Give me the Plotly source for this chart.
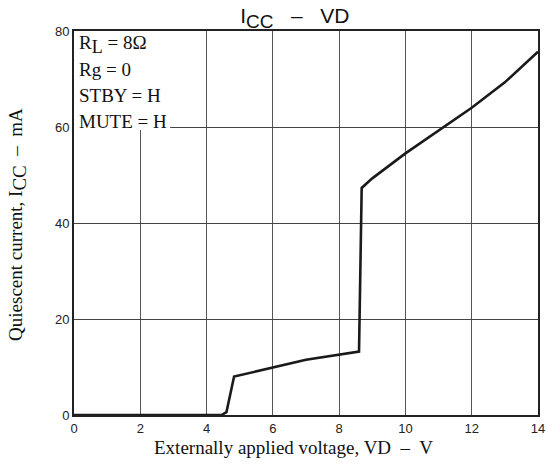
import plotly.graph_objects as go

vd = [0, 4.45, 4.6, 4.83, 7.0, 8.45, 8.6, 8.68, 9.0, 10, 11, 12, 13, 14]
icc = [0, 0, 0.6, 8.0, 11.5, 12.9, 13.2, 47.3, 49.3, 54.5, 59.2, 64.0, 69.3, 75.7]
x_ticks = [0, 2, 4, 6, 8, 10, 12, 14]
y_ticks = [0, 20, 40, 60, 80]
cond_lines = ["R<sub><span style='font-size:18px'>L</span></sub> = 8Ω", "Rg = 0", "STBY = H", "MUTE = H"]

serif = "Liberation Serif, Times New Roman, serif"
sans = "Liberation Sans, Arial, sans-serif"

fig = go.Figure()
fig.add_trace(go.Scatter(x=vd, y=icc, mode="lines",
                         line=dict(color="#1a1a1a", width=2.6), showlegend=False))

fig.update_layout(
    width=546, height=466,
    margin=dict(l=74, r=8, t=31, b=51),
    paper_bgcolor="white", plot_bgcolor="white",
    title=dict(text="I<sub><span style='font-size:19px'>CC</span></sub>   –   VD",
               x=0.54, xanchor="center", y=0.966, yanchor="middle",
               font=dict(family=sans, size=21, color="#111")),
    xaxis=dict(range=[0, 14], tickvals=x_ticks, showgrid=True, gridcolor="#555", gridwidth=1,
               showline=True, linecolor="#222", linewidth=2, mirror=True, zeroline=False,
               automargin=False,
               ticks="", tickfont=dict(family=sans, size=13, color="#222")),
    yaxis=dict(range=[0, 80], tickvals=y_ticks, showgrid=True, gridcolor="#444", gridwidth=1,
               showline=True, linecolor="#222", linewidth=2, mirror=True, zeroline=False,
               automargin=False,
               ticks="", tickfont=dict(family=sans, size=13, color="#222")),
)

fig.add_shape(type="rect", xref="x", yref="y", x0=0, x1=2.9, y0=59.4, y1=80,
              fillcolor="white", line=dict(width=0), layer="between")

ys = [77.1, 71.9, 66.5, 61.25]
for t, yv in zip(cond_lines, ys):
    fig.add_annotation(x=0.1, y=yv, xref="x", yref="y", text=t, showarrow=False,
                       xanchor="left", yanchor="middle",
                       font=dict(family=serif, size=19, color="#111"))

fig.add_annotation(x=0.474, y=0, xref="paper", yref="paper", yshift=-32,
                   text="Externally applied voltage, VD  –  V", showarrow=False,
                   xanchor="center", yanchor="middle",
                   font=dict(family=serif, size=19, color="#111"))
fig.add_annotation(x=0, y=0.495, xref="paper", yref="paper", xshift=-56,
                   text="Quiescent current, I<sub><span style='font-size:19px'>CC</span></sub>  –  mA",
                   textangle=-90, showarrow=False,
                   xanchor="center", yanchor="middle",
                   font=dict(family=serif, size=19, color="#111"))

fig.write_html("out.html", config={"displayModeBar": False},
               post_script="document.body.style.margin='0px';document.body.style.overflow='hidden';")
